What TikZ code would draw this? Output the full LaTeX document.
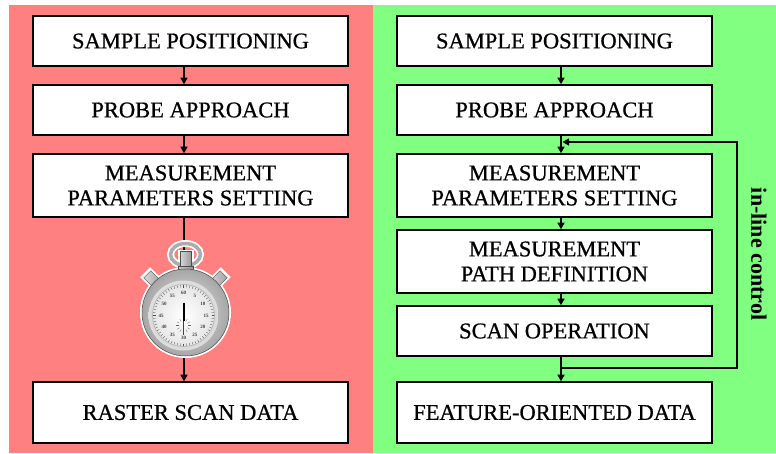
\documentclass[tikz,border=0pt]{standalone}
\usepackage{fontspec}
\setmainfont{Liberation Serif}
\newfontfamily\boxfont{Liberation Serif}[FakeBold=0.7]
\usetikzlibrary{arrows.meta,calc}

\definecolor{panelred}{RGB}{255,128,128}
\definecolor{panelgreen}{RGB}{128,255,128}

\begin{document}
\begin{tikzpicture}[x=1pt,y=-1pt,
  stepbox/.style={draw=black, line width=1.6pt, fill=white, minimum width=315pt,
    align=center, inner sep=0pt, font=\boxfont\fontsize{22.5}{25}\selectfont},
  flow/.style={line width=1.3pt, -{Triangle[length=6.5pt,width=7pt]}},
  dialnum/.style={font=\fontsize{5}{5}\selectfont\bfseries, inner sep=0pt, text=black!75}]

\useasboundingbox (0,0) rectangle (776,453);
\fill[white] (0,0) rectangle (776,453);

% the two panels
\fill[panelred]   (9,5) rectangle (372.5,453);
\fill[panelgreen] (372.5,5) rectangle (776,453);

% left column: conventional raster scan
\node[stepbox, minimum height=50pt] (l1) at (190.5,41)    {SAMPLE POSITIONING};
\node[stepbox, minimum height=50pt] (l2) at (190.5,110)   {PROBE APPROACH};
\node[stepbox, minimum height=63pt] (l3) at (190.5,185.5) {MEASUREMENT\\PARAMETERS SETTING};
\node[stepbox, minimum height=61pt] (l4) at (190.5,412.5) {RASTER SCAN DATA};

% right column: feature-oriented scan
\node[stepbox, minimum height=50pt] (r1) at (554.5,41)    {SAMPLE POSITIONING};
\node[stepbox, minimum height=50pt] (r2) at (554.5,110)   {PROBE APPROACH};
\node[stepbox, minimum height=63pt] (r3) at (554.5,185.5) {MEASUREMENT\\PARAMETERS SETTING};
\node[stepbox, minimum height=63pt] (r4) at (554.5,261.5) {MEASUREMENT\\PATH DEFINITION};
\node[stepbox, minimum height=50pt] (r5) at (554.5,331)   {SCAN OPERATION};
\node[stepbox, minimum height=61pt] (r6) at (554.5,412.5) {FEATURE-ORIENTED DATA};

% connector columns
\coordinate (la) at (184,0);
\coordinate (ra) at (561,0);

\draw[flow] (l1.south -| la) -- (l2.north -| la);
\draw[flow] (l2.south -| la) -- (l3.north -| la);
\draw[flow] (l3.south -| la) -- (l4.north -| la);

\draw[flow] (r1.south -| ra) -- (r2.north -| ra);
\draw[flow] (r2.south -| ra) -- (r3.north -| ra);
\draw[flow] (r3.south -| ra) -- (r4.north -| ra);
\draw[flow] (r4.south -| ra) -- (r5.north -| ra);
\draw[flow] (r5.south -| ra) -- (r6.north -| ra);

% in-line control loop
\coordinate (fb0)  at (561,368);
\coordinate (fb1)  at (737,368);
\coordinate (fb2)  at (737,142);
\coordinate (fbend) at (562.5,142);
\draw[flow] (fb0) -- (fb1) -- (fb2) -- (fbend);

\node[rotate=-90, font=\bfseries\fontsize{22}{24}\selectfont, inner sep=0pt] (loop) at (759,254) {in-line control};

% stopwatch
\begin{scope}[xshift=185.5pt, yshift=-312.5pt, y=1pt]
  % white halo
  \fill[white] (0,0) circle (45.5);
  \draw[white, line width=7pt] (0,58) ellipse (15 and 11);
  \fill[white, rotate=45]  (-7,38) rectangle (7,57);
  \fill[white, rotate=-45] (-7,38) rectangle (7,57);
  \fill[white] (-8,36) rectangle (8,63);
  % top ring
  \draw[gray!65, line width=3.5pt] (0,58) ellipse (15 and 11);
  % side buttons
  \shade[left color=gray!30, right color=gray!75, draw=gray!60!black, line width=0.4pt, rotate=45]  (-5,38) rectangle (5,54);
  \shade[left color=gray!30, right color=gray!75, draw=gray!60!black, line width=0.4pt, rotate=-45] (-5,38) rectangle (5,54);
  % stem and collar
  \shade[left color=gray!30, right color=gray!80, draw=gray!60!black, line width=0.4pt] (-5.5,44) rectangle (5.5,61);
  \shade[left color=gray!40, right color=gray!85, draw=gray!60!black, line width=0.4pt] (-7.5,37) rectangle (7.5,46);
  % case
  \shade[inner color=gray!15, outer color=gray!70, draw=gray!55!black, line width=0.5pt] (0,0) circle (43.5);
  \shade[inner color=gray!70, outer color=gray!25] (-2,-3) circle (35);
  % dial
  \begin{scope}[shift={(-2,-3)}]
    \shade[inner color=white, outer color=gray!20, draw=gray!60, line width=0.6pt] (0,0) circle (31);
    \foreach \a in {0,6,...,354}
      \draw[black!70, line width=0.3pt] (\a:28) -- (\a:30.5);
    \foreach \n in {5,10,...,60}
      \node[dialnum] (num\n) at ({90-6*\n}:22.5) {\n};
    % small sub-dial
    \foreach \a in {0,30,...,330}
      \draw[black!60, line width=0.3pt] ($(0,-10)+(\a:4.5)$) -- ($(0,-10)+(\a:7.5)$);
    % hand
    \draw[gray!50!black, line width=1.2pt] (0,-4) -- (0,-19);
    \draw[black, line width=2pt] (0,13) -- (0,-5);
  \end{scope}
\end{scope}

\end{tikzpicture}
\end{document}
